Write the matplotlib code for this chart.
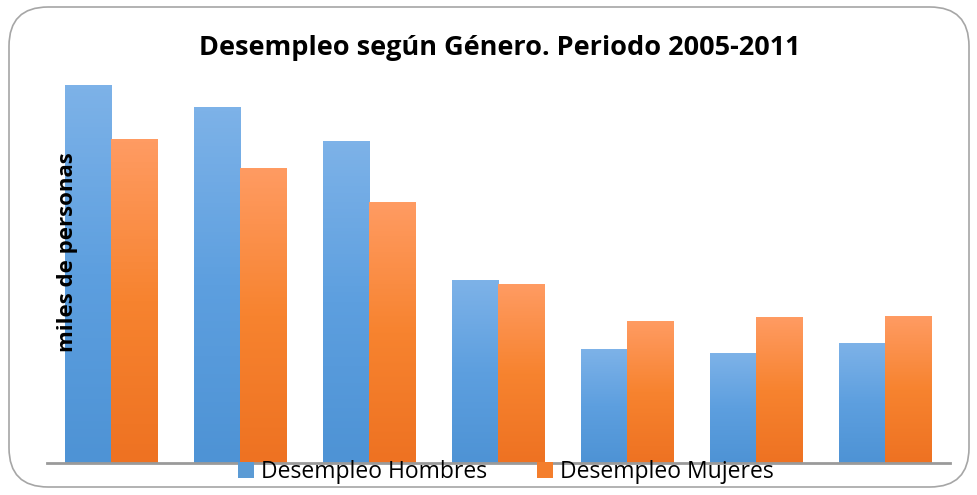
import numpy as np
import matplotlib.pyplot as plt
from matplotlib.patches import FancyBboxPatch, Patch
from matplotlib.colors import LinearSegmentedColormap

# Daten (miles de personas, aus dem Bild geschaetzt)
anios = ["2005", "2006", "2007", "2008", "2009", "2010", "2011"]
hombres = [378, 356, 322, 183, 114, 110, 120]
mujeres = [324, 295, 261, 179, 142, 146, 147]

titulo = "Desempleo según Género. Periodo 2005-2011"
etiqueta_y = "miles de personas"
leyenda = ["Desempleo Hombres", "Desempleo Mujeres"]

W, H = 978, 495
fig = plt.figure(figsize=(W / 100, H / 100), dpi=100)

# Rahmen mit runden Ecken
frame = FancyBboxPatch((9 / W, 8 / H), 960 / W, 480 / H,
                       boxstyle="round,pad=0,rounding_size=0.04",
                       transform=fig.transFigure, facecolor="none",
                       edgecolor="#a6a6a6", linewidth=1.2, mutation_aspect=W / H,
                       zorder=0)
fig.patches.append(frame)

ax = fig.add_axes([47 / W, (H - 463) / H, (950 - 47) / W, (463 - 65) / H])
ax.set_facecolor("none")
ax.set_zorder(1)

x = np.arange(len(anios))
bw = 0.364
cmap_b = LinearSegmentedColormap.from_list("b", ["#4e93d5", "#5d9fdf", "#7db2e8"])
cmap_o = LinearSegmentedColormap.from_list("o", ["#ee7222", "#f7832f", "#ff9b62"])
grad = np.linspace(0, 1, 100).reshape(-1, 1)

bars_h = ax.bar(x - bw / 2, hombres, bw, color="#5b9bd5", zorder=2)
bars_m = ax.bar(x + bw / 2, mujeres, bw, color="#f47e2c", zorder=2)

# Farbverlauf in den Balken
for bars, cm in ((bars_h, cmap_b), (bars_m, cmap_o)):
    for b in bars:
        x0, y0 = b.get_x(), b.get_y()
        ax.imshow(grad, cmap=cm, origin="lower", aspect="auto",
                  extent=(x0, x0 + b.get_width(), y0, y0 + b.get_height()),
                  zorder=2)
        b.set_visible(False)

ax.set_xlim(-0.5, len(anios) - 0.5)
ax.set_ylim(0, 398)
ax.set_xticks([])
ax.set_yticks([])
for s in ["top", "right", "left"]:
    ax.spines[s].set_visible(False)
ax.spines["bottom"].set_color("#9a9a9a")
ax.spines["bottom"].set_linewidth(2)
ax.spines["bottom"].set_zorder(3)

# Titel und Achsenbeschriftung
fig.text(500 / W, 1 - 48 / H, titulo, ha="center", va="center",
         fontsize=19.5, fontweight="bold", family="Open Sans")
fig.text(68 / W, 1 - 252 / H, etiqueta_y, ha="center", va="center",
         rotation=90, fontsize=16, fontweight="bold", family="Open Sans",
         zorder=5)

# Legende
handles = [Patch(facecolor="#5b9bd5"), Patch(facecolor="#f47e2c")]
fig.legend(handles, leyenda, loc="center", bbox_to_anchor=(506 / W, 1 - 472 / H),
           ncol=2, frameon=False, handlelength=0.7, handleheight=0.7,
           handletextpad=0.3, columnspacing=2.2, borderpad=0,
           prop={"family": "Open Sans", "size": 16.5})

fig.savefig("out.png", dpi=100)
